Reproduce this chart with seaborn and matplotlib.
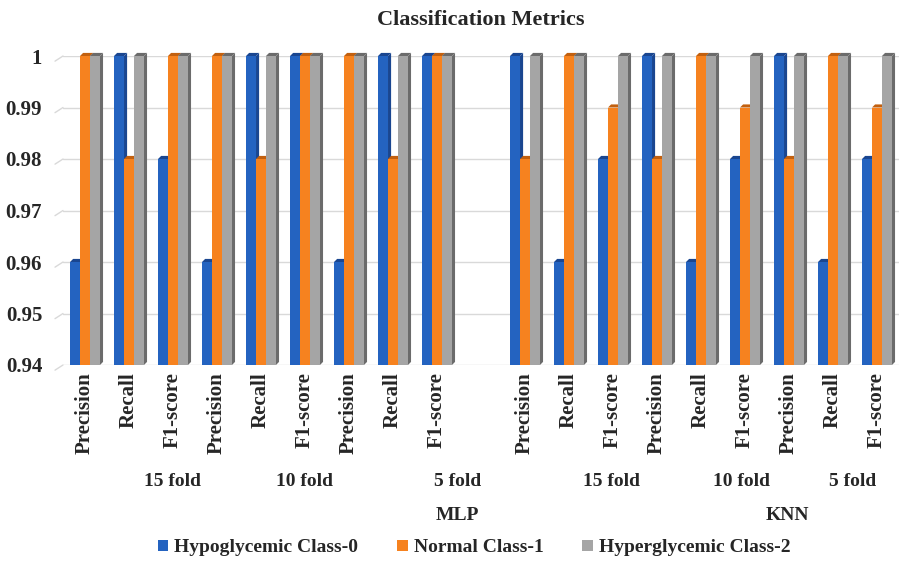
import numpy as np
import pandas as pd
import matplotlib
matplotlib.use("Agg")
import matplotlib.pyplot as plt
import matplotlib.transforms as mtransforms
from matplotlib.patches import Polygon
import seaborn as sns

# ---- data -------------------------------------------------------------
models = ["MLP", "KNN"]
folds = ["15 fold", "10 fold", "5 fold"]
metrics = ["Precision", "Recall", "F1-score"]
classes = ["Hypoglycemic Class-0", "Normal Class-1", "Hyperglycemic Class-2"]

hypo = [0.96, 1.00, 0.98, 0.96, 1.00, 1.00, 0.96, 1.00, 1.00,
        1.00, 0.96, 0.98, 1.00, 0.96, 0.98, 1.00, 0.96, 0.98]
normal = [1.00, 0.98, 1.00, 1.00, 0.98, 1.00, 1.00, 0.98, 1.00,
          0.98, 1.00, 0.99, 0.98, 1.00, 0.99, 0.98, 1.00, 0.99]
hyper = [1.00, 1.00, 1.00, 1.00, 1.00, 1.00, 1.00, 1.00, 1.00,
         1.00, 1.00, 1.00, 1.00, 1.00, 1.00, 1.00, 1.00, 1.00]

yticks = [0.94, 0.95, 0.96, 0.97, 0.98, 0.99, 1.00]
ytick_labels = ["0.94", "0.95", "0.96", "0.97", "0.98", "0.99", "1"]

colors = ["#2463C0", "#F6821F", "#A5A5A5"]
side_colors = ["#1A4690", "#C2600F", "#6B6B6B"]

# ---- long-form table ----------------------------------------------------
slots, slot_labels = [], []
for m in models:
    for f in folds:
        for k in metrics:
            slots.append(f"{m}|{f}|{k}")
            slot_labels.append(k)
order = slots[:9] + ["gap"] + slots[9:]
order_labels = slot_labels[:9] + [""] + slot_labels[9:]

rows = []
for i, s in enumerate(slots):
    for c, vals in zip(classes, [hypo, normal, hyper]):
        rows.append({"slot": s, "cls": c, "value": vals[i]})
df = pd.DataFrame(rows)

# ---- figure -------------------------------------------------------------
sns.set_theme(style="white")
plt.rcParams["font.family"] = ["Liberation Serif", "DejaVu Serif"]
plt.rcParams["font.weight"] = "bold"

fig = plt.figure(figsize=(9.03, 5.61), dpi=100)
ax = fig.add_axes([63 / 903, 1 - 365 / 561, 836 / 903, 309 / 561])

sns.barplot(data=df, x="slot", y="value", hue="cls", order=order,
            hue_order=classes, palette=colors, width=0.68, ax=ax,
            saturation=1, legend=True, errorbar=None, linewidth=0)

ymin, ymax = 0.94, 1.00
ax.set_ylim(ymin, ymax)
ax.set_xlim(-0.5, len(order) - 0.5)

# gridlines on the back wall, with short stubs for the side wall
for y in yticks:
    ax.axhline(y, color="#D9D9D9", lw=1.0, zorder=0)
    ax.plot([0, -8 / 836], [y, y - 0.001], color="#D9D9D9", lw=1.0,
            transform=mtransforms.blended_transform_factory(ax.transAxes, ax.transData),
            clip_on=False, zorder=0)

# give the bars a little depth: a top face and a right side face
dx = 0.07
dy = 0.0006
for ci, cont in enumerate(ax.containers):
    z = 2 + ci * 2
    for bar in cont:
        h = bar.get_height()
        if np.isnan(h) or h <= 0:
            continue
        x0 = bar.get_x()
        x1 = x0 + bar.get_width()
        bar.set_zorder(z + 1)
        side = Polygon([(x1, ymin), (x1 + dx, ymin + dy), (x1 + dx, h + dy), (x1, h)],
                       closed=True, facecolor=side_colors[ci], edgecolor="none",
                       zorder=z, clip_on=False)
        top = Polygon([(x0, h), (x0 + dx, h + dy), (x1 + dx, h + dy), (x1, h)],
                      closed=True, facecolor=side_colors[ci], edgecolor="none",
                      zorder=z + 1, clip_on=False)
        ax.add_patch(side)
        ax.add_patch(top)

for s in ax.spines.values():
    s.set_visible(False)

ax.set_yticks(yticks)
ax.set_yticklabels(ytick_labels, fontsize=15, fontweight="bold")
ax.set_xticks(range(len(order)))
ax.set_xticklabels(order_labels, rotation=90, fontsize=15, fontweight="bold")
ax.tick_params(axis="y", length=0, pad=15)
ax.tick_params(axis="x", length=0, pad=5)
ax.set_xlabel("")
ax.set_ylabel("")

# grouped category labels under the ticks
trans = mtransforms.blended_transform_factory(ax.transData, fig.transFigure)
fold_pos = [2.0, 5.0, 8.47, 11.96, 14.93, 17.45]
fold_text = folds + folds
for x, t in zip(fold_pos, fold_text):
    ax.text(x, 1 - 481 / 561, t, transform=trans, ha="center", va="center",
            fontsize=14, fontweight="bold")
model_pos = [8.47, 15.97]
for x, t in zip(model_pos, models):
    ax.text(x, 1 - 515 / 561, t, transform=trans, ha="center", va="center",
            fontsize=14, fontweight="bold")

ax.set_title("Classification Metrics", fontsize=16, fontweight="bold", pad=22)

handles, labels = ax.get_legend_handles_labels()
ax.get_legend().remove()
fig.legend(handles, labels, loc="center", bbox_to_anchor=(0.525, 1 - 548 / 561),
           ncol=3, frameon=False, handlelength=0.55, handleheight=0.55,
           handletextpad=0.3, columnspacing=2.0,
           prop={"size": 14, "weight": "bold"})

fig.savefig("out.png", dpi=100)
